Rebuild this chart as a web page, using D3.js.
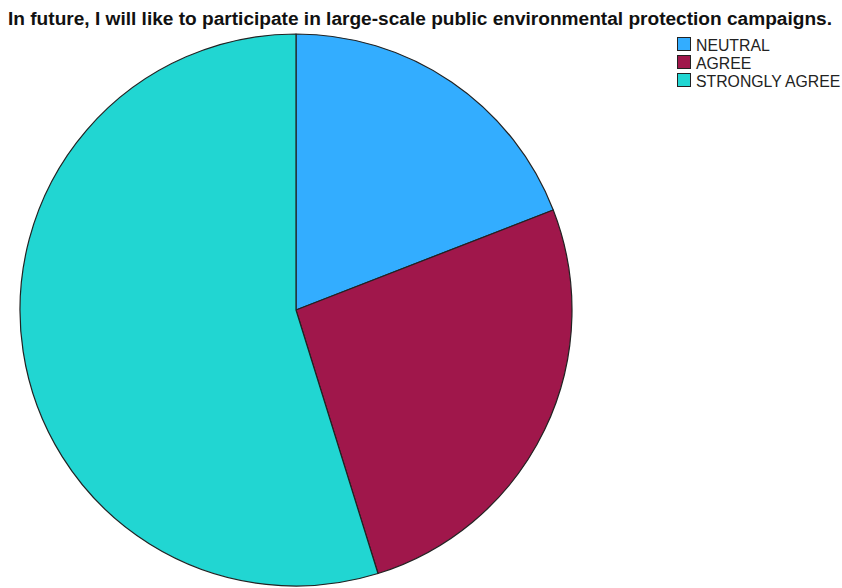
<!DOCTYPE html>
<html><head><meta charset="utf-8">
<script src="https://cdn.jsdelivr.net/npm/d3@7"></script>
<style>html,body{margin:0;padding:0;background:#fff;}</style>
</head><body>
<svg id="chart" width="842" height="588"></svg>
<script>
const title = "In future, I will like to participate in large-scale public environmental protection campaigns.";
const categories = ["NEUTRAL", "AGREE", "STRONGLY AGREE"];
const values = [19.1, 26.1, 54.8];
const colors = ["#33adff", "#a0174b", "#21d6d2"];

const svg = d3.select("#chart");
const cx = 296, cy = 310, r = 276;

svg.append("text")
  .attr("x", 420).attr("y", 25)
  .attr("text-anchor", "middle")
  .attr("font-family", "Liberation Sans, Arial, sans-serif")
  .attr("font-weight", "bold")
  .attr("font-size", 18)
  .attr("textLength", 824)
  .attr("lengthAdjust", "spacingAndGlyphs")
  .attr("fill", "#111")
  .text(title);

const pie = d3.pie().sort(null).value(d => d)(values);
const arc = d3.arc().innerRadius(0).outerRadius(r);
const g = svg.append("g").attr("transform", `translate(${cx},${cy})`);
g.selectAll("path").data(pie).join("path")
  .attr("d", arc)
  .attr("fill", (d, i) => colors[i])
  .attr("stroke", "#222")
  .attr("stroke-width", 1.2)
  .attr("stroke-linejoin", "round");

const leg = svg.append("g").attr("transform", "translate(677,37)");
const items = leg.selectAll("g").data(categories).join("g")
  .attr("transform", (d, i) => `translate(0,${i * 18})`);
items.append("rect")
  .attr("x", 0.5).attr("y", 0.5).attr("width", 13).attr("height", 13)
  .attr("fill", (d, i) => colors[i])
  .attr("stroke", "#222").attr("stroke-width", 1);
items.append("text")
  .attr("x", 19).attr("y", 13.5)
  .attr("font-family", "Liberation Sans, Arial, sans-serif")
  .attr("font-size", 15.8)
  .attr("fill", "#222")
  .text(d => d);
</script>
</body></html>
